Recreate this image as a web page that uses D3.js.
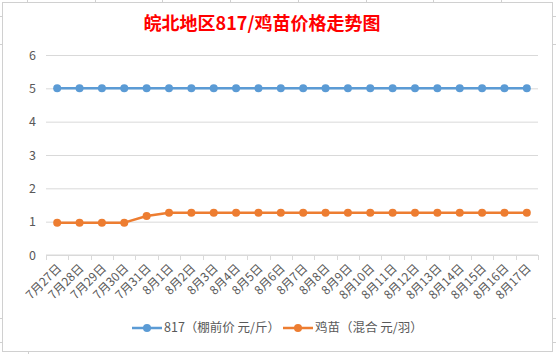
<!DOCTYPE html>
<html>
<head>
<meta charset="utf-8">
<script src="https://cdn.jsdelivr.net/npm/d3@7"></script>
<style>
  body { margin: 0; background: #fff; }
  text { font-family: "Noto Sans CJK SC", "Microsoft YaHei", sans-serif; }
</style>
</head>
<body>
<div id="chart"></div>
<script>
// 817 / chick price line chart

const dates = ["7月27日", "7月28日", "7月29日", "7月30日", "7月31日", "8月1日", "8月2日", "8月3日",
    "8月4日", "8月5日", "8月6日", "8月7日", "8月8日", "8月9日", "8月10日", "8月11日",
    "8月12日", "8月13日", "8月14日", "8月15日", "8月16日", "8月17日"];
const price817 = [5, 5, 5, 5, 5, 5, 5, 5, 5, 5, 5, 5, 5, 5, 5, 5, 5, 5, 5, 5, 5, 5];
const priceChick = [0.97, 0.97, 0.97, 0.97, 1.17, 1.27, 1.27, 1.27, 1.27, 1.27, 1.27, 1.27,
    1.27, 1.27, 1.27, 1.27, 1.27, 1.27, 1.27, 1.27, 1.27, 1.27];
const yTicks = [0, 1, 2, 3, 4, 5, 6];
const seriesNames = ["817（棚前价 元/斤）", "鸡苗（混合 元/羽）"];
const colors = ["#5B9BD5", "#ED7D31"];

const width = 556,
    height = 354,
    margin = ({ top: 55, right: 18, bottom: 99, left: 46 });

const svg = d3.select("#chart")
    .append("svg")
    .attr("width", width)
    .attr("height", height);

// spreadsheet cell lines peeking out around the chart frame
const colStubs = [27, 95, 162, 230, 298, 366, 433, 501];
const rowStubs = [16, 44, 318, 342];
svg.selectAll(".cstub").data(colStubs).join("line")
    .attr("x1", d => d + 0.5).attr("x2", d => d + 0.5)
    .attr("y1", 0).attr("y2", 2)
    .attr("stroke", "#d0d0d0");
svg.selectAll(".bstub").data([28]).join("line")
    .attr("x1", d => d + 0.5).attr("x2", d => d + 0.5)
    .attr("y1", 352).attr("y2", 354)
    .attr("stroke", "#d0d0d0");
svg.selectAll(".lstub").data(rowStubs).join("line")
    .attr("x1", 0).attr("x2", 3)
    .attr("y1", d => d + 0.5).attr("y2", d => d + 0.5)
    .attr("stroke", "#d0d0d0");
svg.selectAll(".rstub").data(rowStubs).join("line")
    .attr("x1", 553).attr("x2", 556)
    .attr("y1", d => d + 0.5).attr("y2", d => d + 0.5)
    .attr("stroke", "#d0d0d0");

// chart frame
svg.append("rect")
    .attr("x", 2.5).attr("y", 2.5)
    .attr("width", 550).attr("height", 349)
    .attr("fill", "#fff")
    .attr("stroke", "#d0d0d0");

let x = d3.scaleBand()
    .domain(dates)
    .range([margin.left, width - margin.right]);

let y = d3.scaleLinear()
    .domain([0, 6])
    .range([height - margin.bottom, margin.top]);

// horizontal gridlines
svg.append("g")
    .attr("transform", `translate(${margin.left},0)`)
    .call(d3.axisLeft(y).tickValues(yTicks).tickFormat(d3.format("d"))
        .tickSize(-(width - margin.left - margin.right)).tickPadding(10))
    .call(g => g.select(".domain").remove())
    .call(g => g.selectAll(".tick line").attr("stroke", "#d9d9d9"))
    .call(g => g.selectAll(".tick text")
        .attr("fill", "#595959")
        .attr("font-size", 12.5)
        .attr("font-family", "Noto Sans, sans-serif"));

// x axis with ticks between categories
const xAxis = svg.append("g")
    .attr("transform", `translate(0,${y(0)})`);
xAxis.append("line")
    .attr("x1", margin.left).attr("x2", width - margin.right)
    .attr("stroke", "#d9d9d9");
xAxis.selectAll(".sep")
    .data(dates.concat(["end"]))
    .join("line")
    .attr("x1", (d, i) => Math.round(margin.left + i * x.step()) + 0.5)
    .attr("x2", (d, i) => Math.round(margin.left + i * x.step()) + 0.5)
    .attr("y1", 0).attr("y2", 5)
    .attr("stroke", "#d9d9d9");
xAxis.selectAll(".lbl")
    .data(dates)
    .join("text")
    .attr("transform", d => `translate(${x(d) + x.bandwidth() / 2 + 5},${14}) rotate(-45)`)
    .attr("text-anchor", "end")
    .attr("fill", "#595959")
    .attr("font-size", 12)
    .text(d => d);

// lines + markers
const series = [price817, priceChick];
let line = d3.line()
    .x((d, i) => x(dates[i]) + x.bandwidth() / 2)
    .y(d => y(d));

series.forEach((vals, k) => {
    svg.append("path")
        .datum(vals)
        .attr("d", line)
        .attr("fill", "none")
        .attr("stroke", colors[k])
        .attr("stroke-width", 2.5)
        .attr("stroke-linejoin", "round");
    svg.append("g")
        .selectAll("circle")
        .data(vals)
        .join("circle")
        .attr("cx", (d, i) => x(dates[i]) + x.bandwidth() / 2)
        .attr("cy", d => y(d))
        .attr("r", 4)
        .attr("fill", colors[k]);
});

// title
svg.append("text")
    .attr("x", 262)
    .attr("y", 30)
    .attr("text-anchor", "middle")
    .attr("fill", "#FF0000")
    .attr("font-size", 18)
    .attr("font-weight", "bold")
    .text("皖北地区817/鸡苗价格走势图");

// legend
const legendX = [132, 283];
const legend = svg.append("g")
    .selectAll("g")
    .data(seriesNames)
    .join("g")
    .attr("transform", (d, i) => `translate(${legendX[i]},328)`);
legend.append("line")
    .attr("x1", 0).attr("x2", 30)
    .attr("stroke", (d, i) => colors[i])
    .attr("stroke-width", 2.5);
legend.append("circle")
    .attr("cx", 15).attr("r", 4)
    .attr("fill", (d, i) => colors[i]);
legend.append("text")
    .attr("x", 32)
    .attr("dy", "0.35em")
    .attr("fill", "#595959")
    .attr("font-size", 12.5)
    .text(d => d);
</script>
</body>
</html>
